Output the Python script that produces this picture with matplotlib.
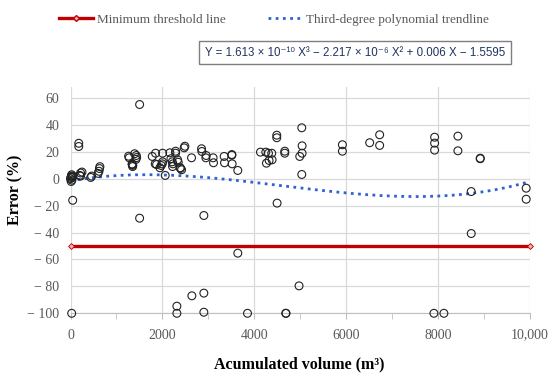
import numpy as np
import matplotlib
matplotlib.use("Agg")
import matplotlib.pyplot as plt
from matplotlib.lines import Line2D
from matplotlib.ticker import FuncFormatter, MultipleLocator

# measured points: accumulated volume [m3] vs error [%]
vol = [0, 10, 20, 30, 40, 15, 50, 25, 48, 26,
       180, 180, 220, 220, 250, 200, 440, 460, 600, 620, 630, 640,
       1265, 1278, 1344, 1352, 1395, 1431, 1439, 1424, 1504, 1504, 1340, 1355,
       1779, 1851, 1844, 1873, 1974, 2004, 2004, 1996, 1946, 2061,
       2163, 2213, 2228, 2287, 2287, 2330, 2344, 2387, 2417, 2474, 2489, 2221, 2185, 2396,
       2634, 2852, 2859, 2946, 2952, 3104, 3112, 3344, 3352, 3511, 3518, 3511, 3641,
       4134, 4250, 4308, 4264, 4322, 4380, 4387, 4489, 4489, 4663, 4663,
       5033, 5040, 5040, 4989, 5033, 5917, 5917, 6511, 6728, 6728,
       7924, 7924, 7924, 8431, 8431, 8917, 8917, 8720, 8721, 9917, 9917,
       2902, 4496, 3641, 4974, 2641, 2902, 2315, 2315, 2902, 3852, 4685, 4690, 7909, 8126]
err = [0, 1, 2, -1, 1, -2, 2, 3, -16, -100,
       26.4, 24, 4.3, 2, 5, 2.5, 1, 2, 4, 5.6, 7.6, 9,
       16.8, 15.6, 10.6, 9.1, 18.6, 17.3, 15.8, 14.4, 55.2, -29.3, 11, 10,
       16.6, 19, 11.1, 10.6, 9.9, 12.6, 19, 11.1, 8.2, 2.5,
       19.3, 12.6, 11.1, 20.5, 19, 14.1, 12.3, 8.2, 6.7, 23, 24.2, 9.1, 14.9, 7.7,
       15.6, 22.3, 20.3, 15.6, 17.3, 15.6, 11.9, 16.6, 11.9, 18, 11.1, 17.5, 6.2,
       19.8, 19.8, 19, 11.6, 13.6, 19, 14.1, 32.4, 30.5, 20.5, 19,
       37.9, 24.5, 19, 16.6, 3.2, 25.3, 20.5, 26.8, 32.7, 24.8,
       30.9, 26.5, 21.3, 31.7, 20.8, 14.9, 15.3, -9.5, -40.7, -7, -15.2,
       -27.3, -18.1, -55.3, -79.6, -87, -85, -94.7, -100, -99.2, -100, -100, -100, -100, -100]

# trendline coefficients as printed on the chart (X^3, X^2, X, const)
coef = [1.613e-10, -2.217e-6, 0.006, -1.5595]

threshold = -50
thr_x = [0, 10000]

fig = plt.figure(figsize=(5.5, 3.8), dpi=100)
ax = fig.add_axes([70.5/550, 1 - 313.3/380, (530 - 70.5)/550, (313.3 - 87.3)/380])

serif = 'Liberation Serif'
grey = '#595959'
gridc = '#d9d9d9'

xs = np.linspace(0, 10000, 400)
ax.plot(xs, np.polyval(coef, xs), ls=(0, (1, 1.6)), color='#2f62d2', lw=2.0, zorder=3)
ax.plot(thr_x, [threshold, threshold], color='#c00000', lw=2.4, marker='D',
        ms=3, mfc='#f4b0b0', mec='#c00000', mew=0.6, zorder=4, clip_on=False)
ax.scatter(vol, err, s=32, facecolors='none', edgecolors='#222222', linewidths=0.8,
           zorder=5, clip_on=False)

ax.set_xlim(0, 10000)
ax.set_ylim(-100, 68)
ax.xaxis.set_major_locator(MultipleLocator(2000))
ax.xaxis.set_minor_locator(MultipleLocator(1000))
ax.yaxis.set_major_locator(MultipleLocator(20))
ax.grid(True, which='major', color=gridc, lw=0.9)
ax.set_axisbelow(True)
for s in ['top', 'right', 'left']:
    ax.spines[s].set_visible(False)
ax.spines['bottom'].set_color('#bfbfbf')
ax.tick_params(axis='y', length=0, pad=8, labelsize=10, labelcolor=grey)
ax.tick_params(axis='x', which='both', length=4, color='#bfbfbf', pad=7,
               labelsize=10, labelcolor=grey)
ax.xaxis.set_major_formatter(FuncFormatter(lambda v, p: '10,000' if v == 10000 else f'{v:.0f}'))
ax.yaxis.set_major_formatter(FuncFormatter(lambda v, p: f'\u2212 {abs(v):.0f}' if v < 0 else f'{v:.0f}'))
for lab in ax.get_xticklabels() + ax.get_yticklabels():
    lab.set_family(serif)

fig.text(0.028, 0.50, 'Error (%)', rotation=90, ha='center', va='center',
         fontsize=11.5, fontweight='bold', family=serif)
fig.text(0.545, 0.04, 'Acumulated volume (m³)', ha='center', va='center',
         fontsize=11.5, fontweight='bold', family=serif)

handles = [Line2D([], [], color='#c00000', lw=2.4, marker='D', ms=3,
                  mfc='#f4b0b0', mec='#c00000'),
           Line2D([], [], color='#2f62d2', lw=2.0, ls=(0, (1, 1.6)))]
fig.legend(handles, ['Minimum threshold line', 'Third-degree polynomial trendline'],
           loc='center left', bbox_to_anchor=(52/550, 1 - 20/380), ncol=2, frameon=False,
           borderpad=0, handlelength=2.6, handletextpad=0.3, columnspacing=3.2,
           prop={'family': serif, 'size': 9.5}, labelcolor=grey)

eq = 'Y = 1.613 × 10⁻¹⁰ X³ − 2.217 × 10⁻⁶ X² + 0.006 X − 1.5595'
fig.text(355/550, 1 - 52.5/380, eq, ha='center', va='center', fontsize=8.3,
         color='#1f3460', family=['Liberation Sans', 'DejaVu Sans'],
         bbox=dict(boxstyle='square,pad=0.5', fc='white', ec='#7f7f7f', lw=1.0))

fig.savefig('out.png', dpi=100)
